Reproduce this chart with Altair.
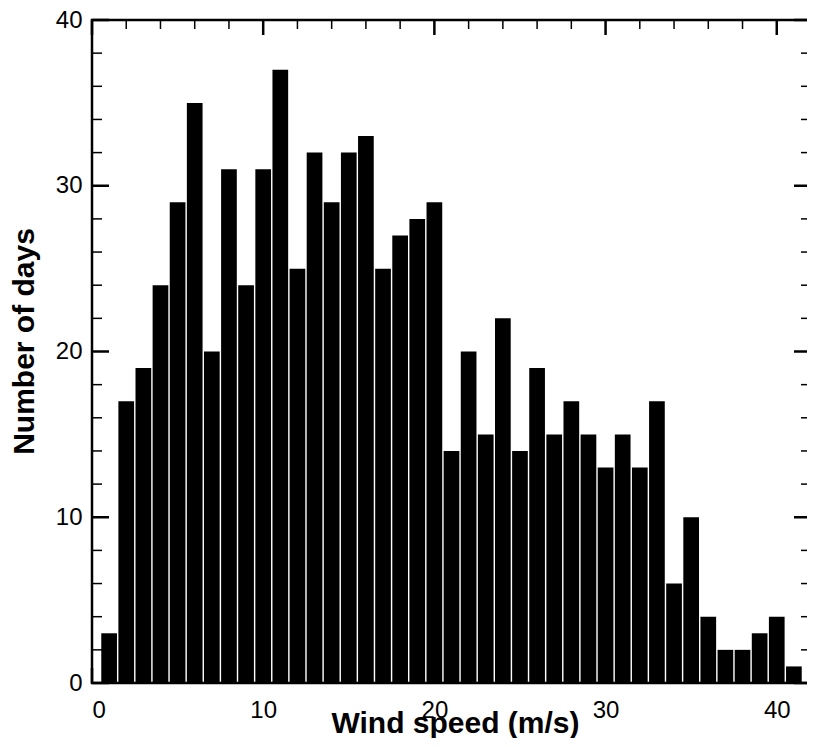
import altair as alt
import pandas as pd

# Histogram data: wind speed bin centres (m/s) and number of days
speed = list(range(1, 42))
days = [3, 17, 19, 24, 29, 35, 20, 31, 24, 31,
        37, 25, 32, 29, 32, 33, 25, 27, 28, 29,
        14, 20, 15, 22, 14, 19, 15, 17, 15, 13,
        15, 13, 17, 6, 10, 4, 2, 2, 3, 4, 1]

x_major = [0, 10, 20, 30, 40]
x_minor = [v for v in range(2, 41, 2) if v % 10 != 0]
y_major = [0, 10, 20, 30, 40]
y_minor = [v for v in range(2, 40, 2) if v % 10 != 0]

W, H = 719, 663
FONT = "Liberation Sans"

xscale = alt.Scale(domain=[0, 42], nice=False, zero=False, padding=0)
yscale = alt.Scale(domain=[0, 40], nice=False, padding=0)

x_axis = alt.Axis(values=x_major, ticks=False, tickSize=0, domain=False, grid=False,
                  labelFontSize=24, labelColor="black", labelPadding=15, labelFont=FONT,
                  title="Wind speed (m/s)", titleFontSize=30, titleFontWeight="bold",
                  titleColor="black", titleFont=FONT, titleX=363, titleY=49,
                  titleBaseline="alphabetic", titleAlign="center")
y_axis = alt.Axis(values=y_major, ticks=False, tickSize=0, domain=False, grid=False,
                  labelFontSize=24, labelColor="black", labelPadding=10, labelFont=FONT,
                  title="Number of days", titleFontSize=30, titleFontWeight="bold",
                  titleColor="black", titleFont=FONT, titleX=-59, titleY=321,
                  titleAngle=270, titleBaseline="alphabetic", titleAlign="center")

bars_df = pd.DataFrame({"speed": speed, "days": days})

bars = alt.Chart(bars_df).mark_bar(color="black", size=15.7).encode(
    x=alt.X("speed:Q", scale=xscale, axis=x_axis),
    y=alt.Y("days:Q", scale=yscale, axis=y_axis),
)

def xticks(vals, length, width):
    d = pd.DataFrame({"speed": vals})
    xe = alt.X("speed:Q", scale=xscale, axis=x_axis)
    bottom = alt.Chart(d).mark_rule(color="black", strokeWidth=width).encode(
        x=xe, y=alt.value(H), y2=alt.value(H - length))
    top = alt.Chart(d).mark_rule(color="black", strokeWidth=width).encode(
        x=xe, y=alt.value(0), y2=alt.value(length))
    return [bottom, top]

def yticks(vals, length, width):
    d = pd.DataFrame({"days": vals})
    ye = alt.Y("days:Q", scale=yscale, axis=y_axis)
    left = alt.Chart(d).mark_rule(color="black", strokeWidth=width).encode(
        y=ye, x=alt.value(0), x2=alt.value(length))
    right = alt.Chart(d).mark_rule(color="black", strokeWidth=width).encode(
        y=ye, x=alt.value(W), x2=alt.value(W - length))
    return [left, right]

frame = alt.Chart(pd.DataFrame({"a": [0]})).mark_rect(
    filled=False, stroke="black", strokeWidth=2.5).encode(
    x=alt.value(0), x2=alt.value(W), y=alt.value(0), y2=alt.value(H))

layers = [bars]
layers += xticks(x_major, 15, 2.5) + xticks(x_minor, 9, 1.5)
layers += yticks(y_major, 17, 2.5) + yticks(y_minor, 10, 1.5)
layers.append(frame)

chart = alt.layer(*layers).properties(
    width=W, height=H,
    autosize=alt.AutoSizeParams(type="none"),
    padding={"left": 84, "top": 12, "right": -4, "bottom": 55},
    background="white",
).configure_view(strokeWidth=0)

chart.save("out.html", embed_options={"renderer": "svg", "actions": False})
